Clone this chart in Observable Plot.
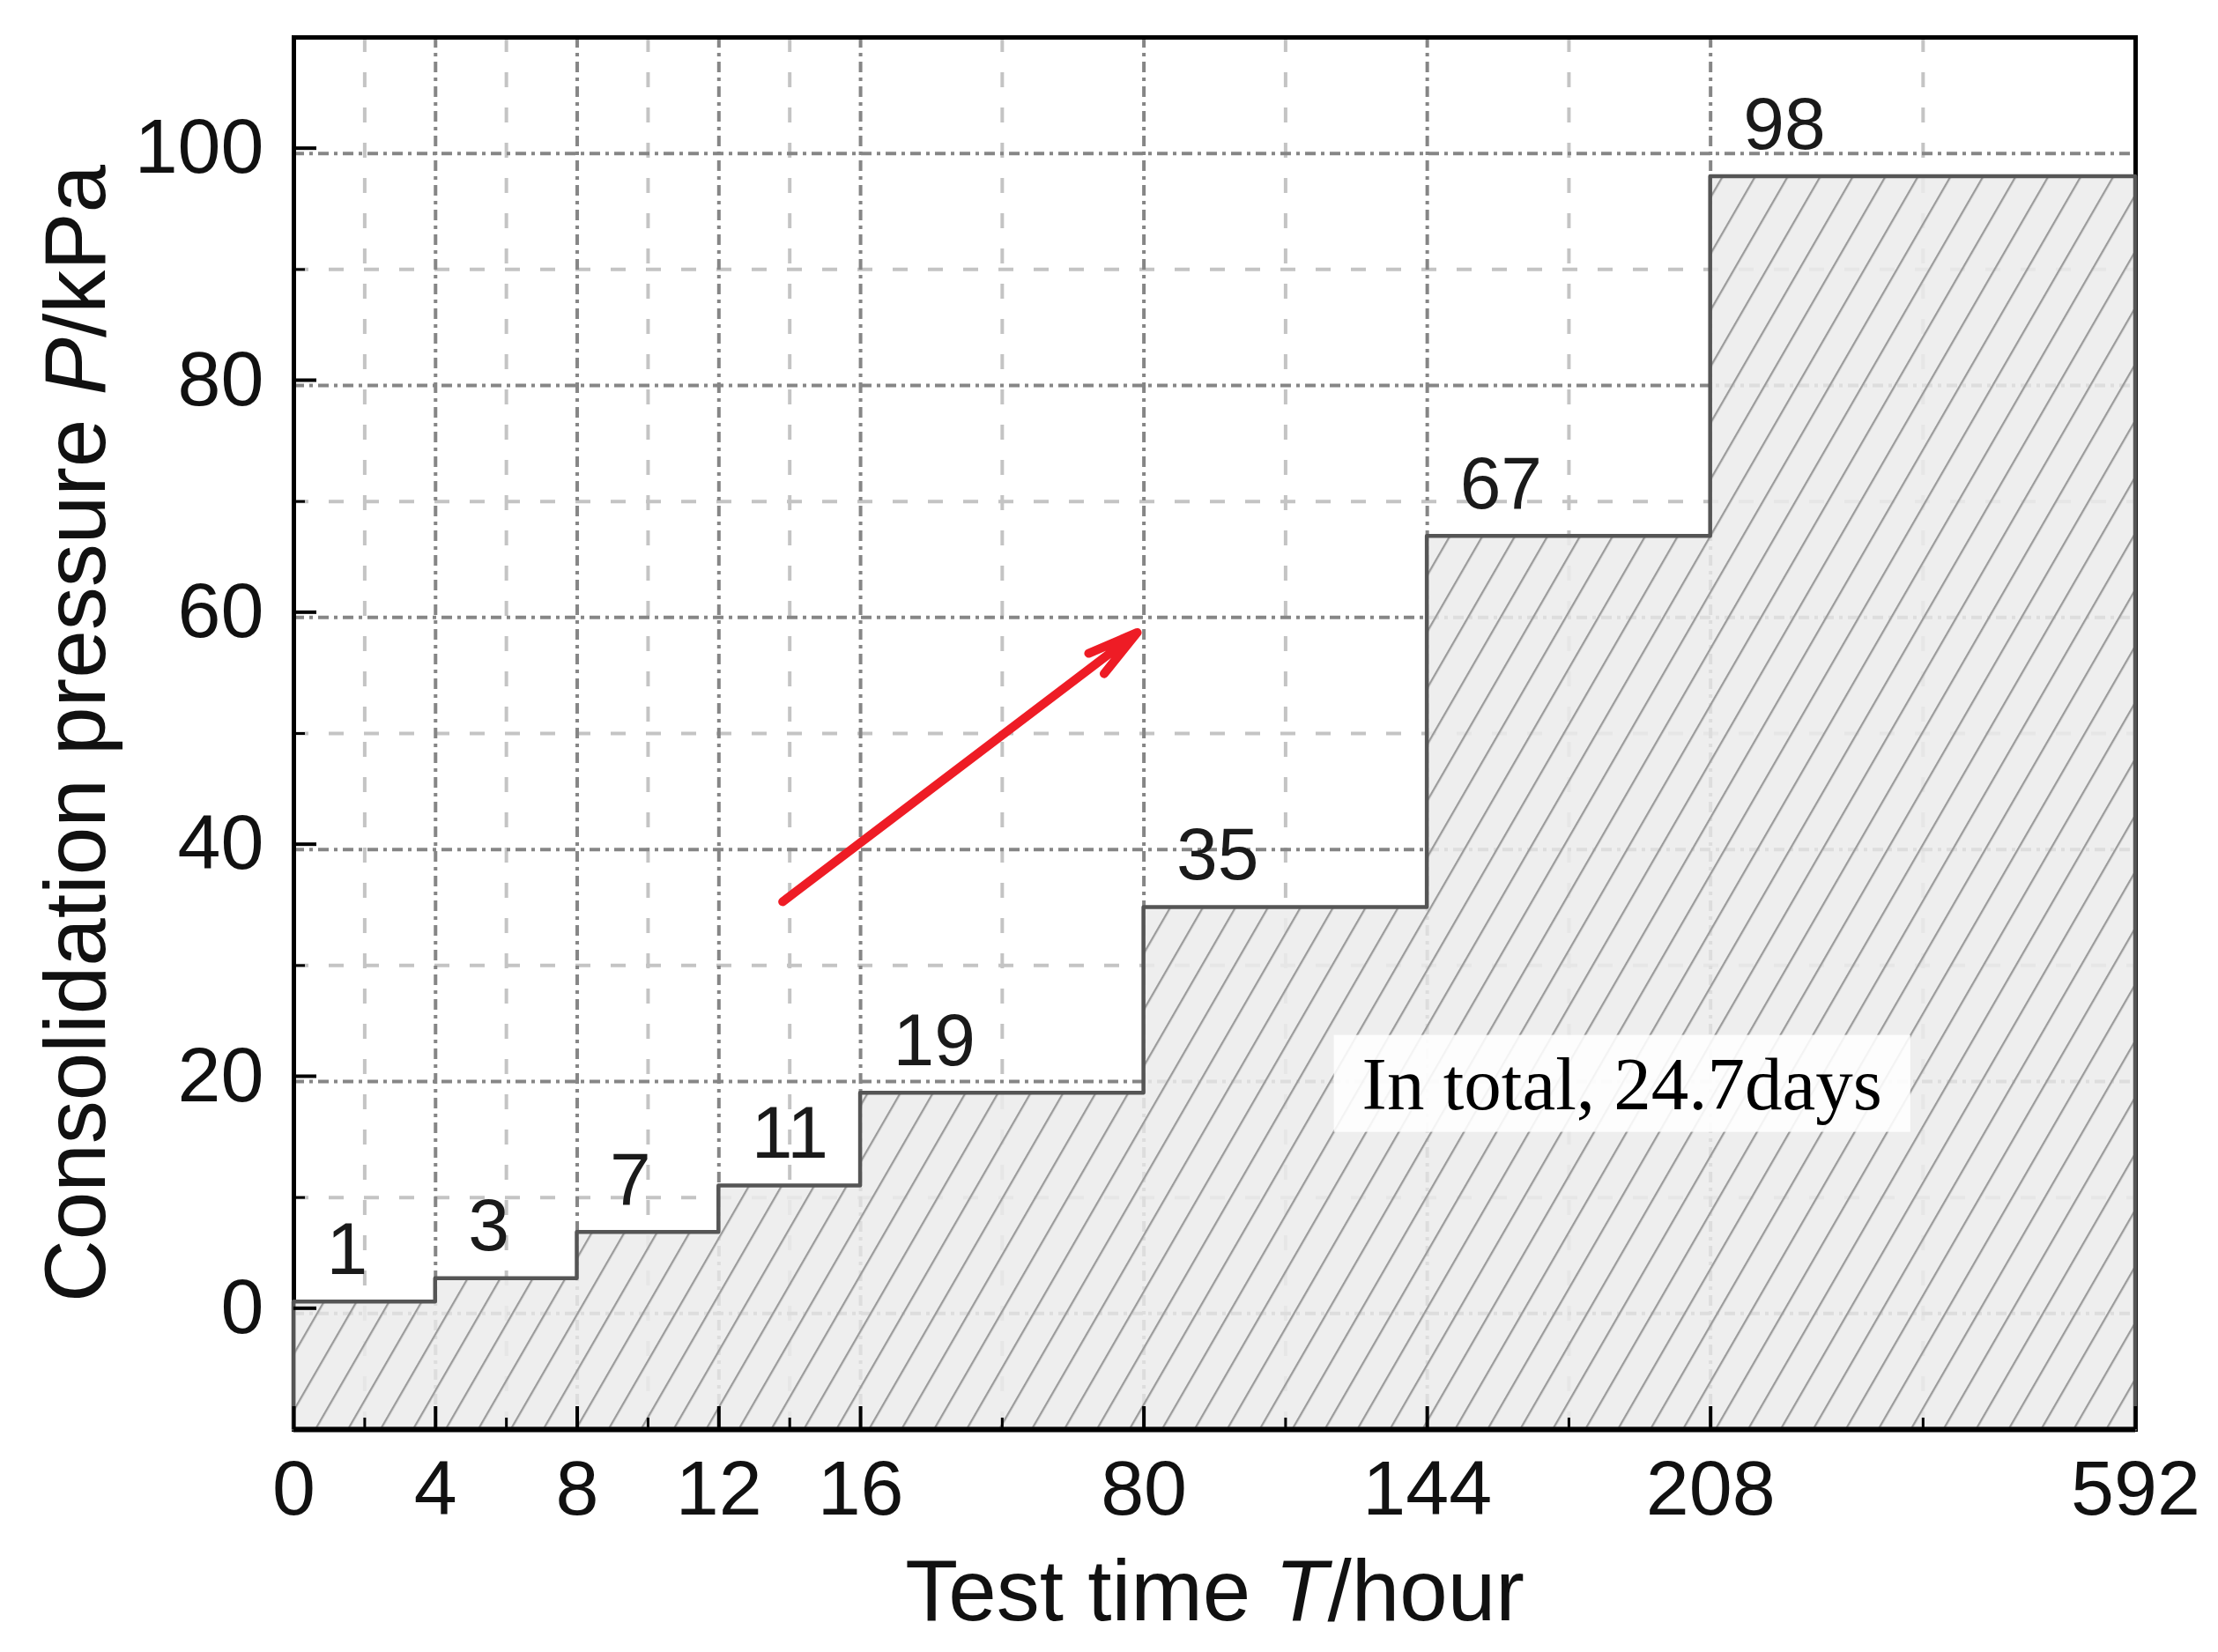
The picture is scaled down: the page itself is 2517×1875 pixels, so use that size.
<!DOCTYPE html>
<html>
<head>
<meta charset="utf-8">
<script src="https://cdn.jsdelivr.net/npm/d3@7"></script>
<script src="https://cdn.jsdelivr.net/npm/@observablehq/plot@0.6"></script>
<style>
  html, body { margin: 0; padding: 0; background: #ffffff; }
  #chart svg { display: block; }
</style>
</head>
<body>
<div id="chart"></div>
<script>
// ---- data ----
const xTicks = [0, 4, 8, 12, 16, 80, 144, 208, 592];      // test time (hour), major ticks / step edges
const xSlots = [0, 1, 2, 3, 4, 6, 8, 10, 13];             // relative spacing of the broken time axis
const xMinorTicks = [2, 6, 10, 14, 48, 112, 176, 400];    // minor ticks / minor grid
const pressures = [1, 3, 7, 11, 19, 35, 67, 98];          // consolidation pressure (kPa) for each stage
const yMajorTicks = [0, 20, 40, 60, 80, 100];
const yMinorTicks = [10, 30, 50, 70, 90];
const yDomain = [-10, 110];
const arrowFrom = {t: 13.8, p: 35.5};
const arrowTo = {t: 78.5, p: 58.7};
const note = {t: 188, p: 19.7, text: "In total, 24.7days"};
const xTitle = "Test time T/hour";
const yTitle = "Consolidation pressure P/kPa";

// ---- layout ----
const W = 2517, H = 1875;
const ml = 333, mr = 94, mt = 42, mb = 253;

// broken (piecewise linear) time axis: hours -> axis slot
const slot = d3.scaleLinear().domain(xTicks).range(xSlots);
const hourOf = s => Math.round(slot.invert(s));

const steps = xTicks.map((t, i) => ({t, p: pressures[Math.min(i, pressures.length - 1)]}));
const stages = steps.slice(0, pressures.length);

const majorGrid = {stroke: "#868686", strokeWidth: 4, strokeDasharray: "12,6,4,6"};
const minorGrid = {stroke: "#c4c4c4", strokeWidth: 4, strokeDasharray: "17,23"};
const X = d => slot(d.t);

const svg = Plot.plot({
  width: W,
  height: H,
  marginLeft: ml,
  marginRight: mr,
  marginTop: mt,
  marginBottom: mb,
  style: {fontFamily: "'Liberation Sans', Arial, sans-serif", background: "#ffffff", color: "#000"},
  x: {domain: d3.extent(xSlots), label: null},
  y: {domain: yDomain, label: null},
  marks: [
    Plot.ruleY(yMinorTicks, minorGrid),
    Plot.ruleX(xMinorTicks, {...minorGrid, x: d => slot(d)}),
    Plot.ruleY(yMajorTicks, majorGrid),
    Plot.ruleX(xTicks, {...majorGrid, x: d => slot(d)}),
    Plot.frame({stroke: "#000", strokeWidth: 5}),
    Plot.areaY(steps, {x: X, y1: yDomain[0], y2: "p", curve: "step-after",
      fill: "url(#hatch)", stroke: "#555555", strokeWidth: 4.5}),
    Plot.ruleY([yDomain[0]], {stroke: "#000", strokeWidth: 6}),
    Plot.text(stages, {x: X, y: "p", text: d => String(d.p), textAnchor: "start",
      lineAnchor: "bottom", dx: 37, dy: -32, fontSize: 84, fill: "#1a1a1a"}),
    Plot.arrow([{from: arrowFrom, to: arrowTo}], {x1: d => slot(d.from.t), y1: d => d.from.p,
      x2: d => slot(d.to.t), y2: d => d.to.p, stroke: "#ee1c25", strokeWidth: 10,
      headLength: 9, headAngle: 28}),
    Plot.text([note], {x: X, y: "p", text: "text", fontFamily: "'Liberation Serif', 'Times New Roman', serif",
      fontSize: 85, fill: "#000", lineAnchor: "middle", textAnchor: "middle"}),
    // ticks (inward) and tick labels
    Plot.axisX(xTicks.map(slot), {anchor: "bottom", tickSize: -26, tickPadding: 60, strokeWidth: 4,
      fontSize: 88, fill: "#111", tickFormat: s => String(hourOf(s)), label: null}),
    Plot.axisX(xMinorTicks.map(slot), {anchor: "bottom", tickSize: -13, strokeWidth: 3,
      tickFormat: () => "", label: null}),
    Plot.axisY(yMajorTicks, {anchor: "left", tickSize: -26, tickPadding: 60, strokeWidth: 4,
      fontSize: 88, fill: "#111", dy: -6, tickFormat: d => String(d), label: null}),
    Plot.axisY(yMinorTicks, {anchor: "left", tickSize: -13, strokeWidth: 3,
      tickFormat: () => "", label: null}),
    // axis titles
    Plot.text([xTitle], {frameAnchor: "bottom", text: d => d, lineAnchor: "bottom", textAnchor: "middle",
      dy: 216, fontSize: 98, fill: "#111"}),
    Plot.text([yTitle], {frameAnchor: "left", text: d => d, lineAnchor: "bottom", textAnchor: "middle",
      rotate: -90, dx: -215, fontSize: 98, fill: "#111"})
  ]
});

// hatch pattern for the loaded area
const ns = "http://www.w3.org/2000/svg";
const defs = document.createElementNS(ns, "defs");
defs.innerHTML =
  '<pattern id="hatch" patternUnits="userSpaceOnUse" width="32" height="32" patternTransform="rotate(30)">' +
  '<rect width="32" height="32" fill="#ebebeb" fill-opacity="0.86"></rect>' +
  '<line x1="1" y1="0" x2="1" y2="32" stroke="#9b9b9b" stroke-width="2.6"></line>' +
  '</pattern>';
svg.insertBefore(defs, svg.firstChild);

document.getElementById("chart").appendChild(svg);

// italic variable letters in the axis titles
function italicize(full, letter) {
  d3.select(svg).selectAll("text").filter(function () { return this.textContent === full; })
    .each(function () {
      const i = full.indexOf(letter + "/");
      const el = d3.select(this).text(null);
      el.append("tspan").text(full.slice(0, i));
      el.append("tspan").attr("font-style", "italic").text(letter);
      el.append("tspan").text(full.slice(i + 1));
    });
}
italicize(xTitle, "T");
italicize(yTitle, "P");

// white box behind the note
d3.select(svg).selectAll("text").filter(function () { return this.textContent === note.text; })
  .each(function () {
    const b = this.getBBox();
    const r = document.createElementNS(ns, "rect");
    r.setAttribute("x", b.x - 32);
    r.setAttribute("y", b.y - 8);
    r.setAttribute("width", b.width + 64);
    r.setAttribute("height", b.height + 16);
    r.setAttribute("fill", "#ffffff");
    r.setAttribute("fill-opacity", "0.88");
    const tr = this.getAttribute("transform");
    if (tr) r.setAttribute("transform", tr);
    this.parentNode.insertBefore(r, this);
  });
</script>
</body>
</html>
